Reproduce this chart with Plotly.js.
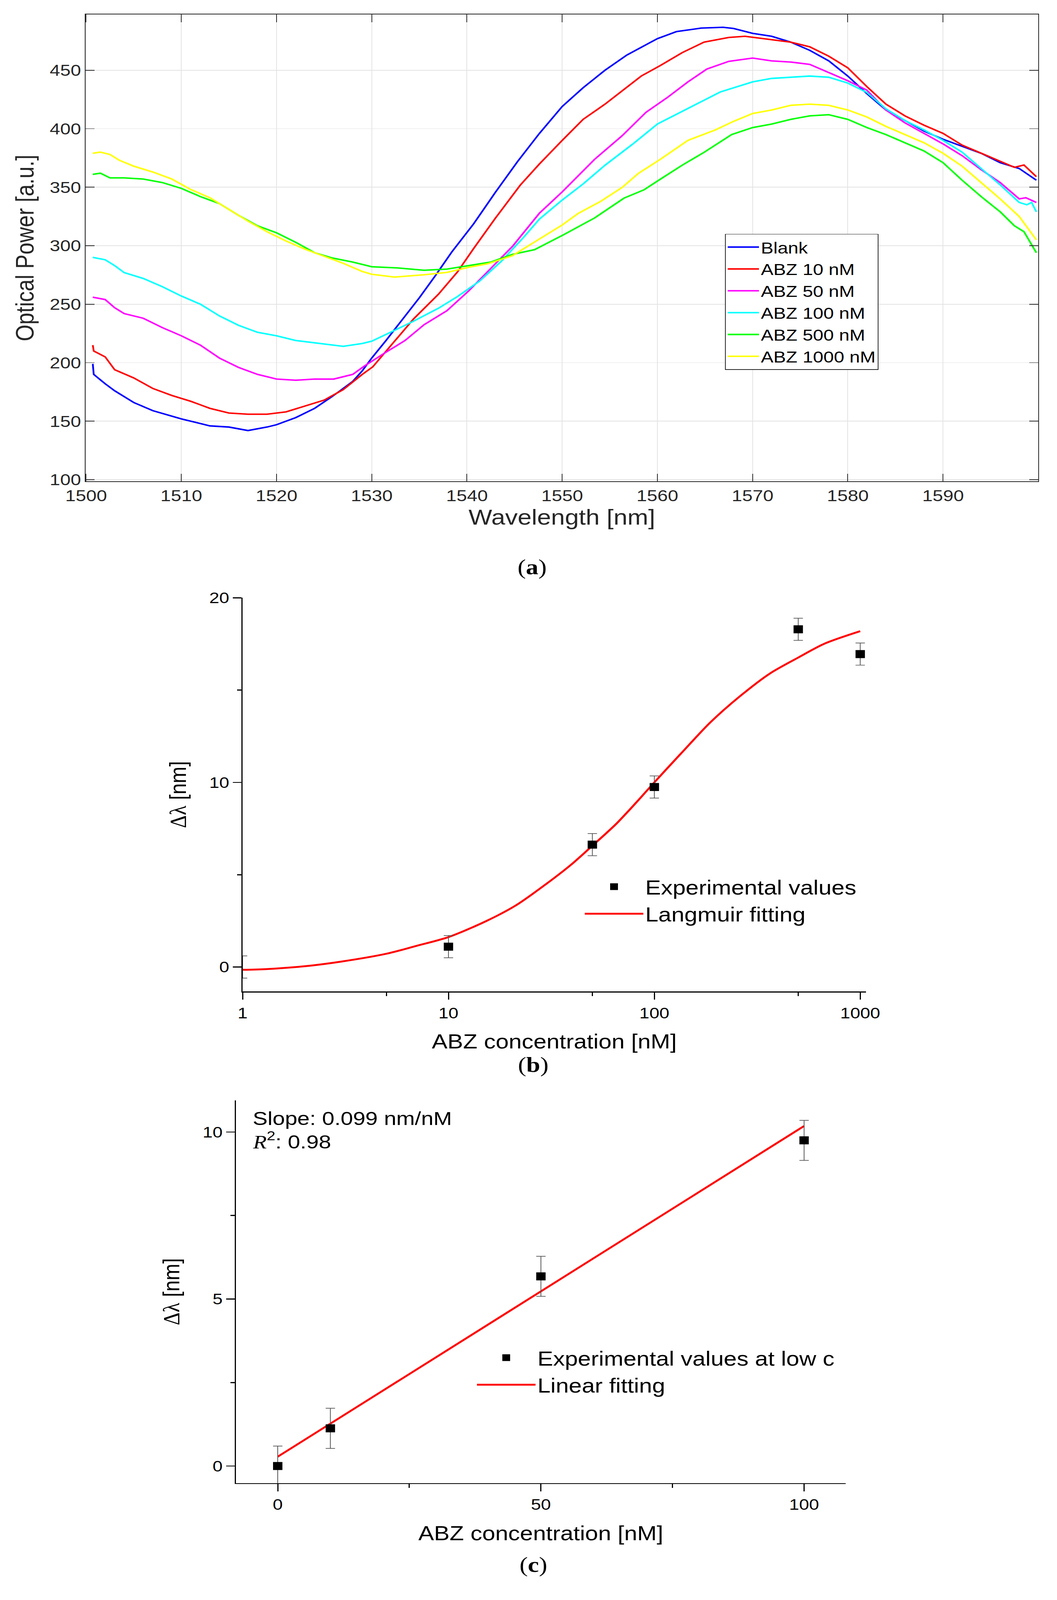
<!DOCTYPE html>
<html>
<head>
<meta charset="utf-8">
<script src="https://cdn.plot.ly/plotly-3.0.1.min.js"></script>
<style>
  html, body { margin: 0; padding: 0; background: #ffffff; overflow: hidden; }
  #wrap { width: 2706px; overflow: hidden; }
  #chart { width: 2706px; height: 4790px; transform-origin: 0 0; }
</style>
</head>
<body>
<div id="wrap"><div id="chart"></div></div>
<script>
// ==========================================================
// PANEL (a) - transmission spectra
// ==========================================================

let seriesNames = ["Blank", "ABZ 10 nM", "ABZ 50 nM", "ABZ 100 nM", "ABZ 500 nM", "ABZ 1000 nM"];
let seriesColors = ["#0000ff", "#ff0000", "#ff00ff", "#00ffff", "#00ff00", "#ffff00"];

let blankX = [1500.7, 1500.8, 1502, 1503, 1505, 1507, 1510, 1512, 1513, 1515, 1517, 1519, 1520, 1522, 1524, 1526, 1528, 1529, 1530, 1531.5, 1533.3, 1535, 1536.7, 1538.4, 1540.7, 1543, 1545.3, 1547.6, 1550, 1552.2, 1554.5, 1556.8, 1560, 1562, 1564.6, 1566.9, 1568, 1570, 1572, 1574, 1576, 1578, 1580, 1582, 1584, 1586, 1588, 1590, 1592, 1594, 1596, 1598, 1599.8];
let blankY = [199, 190, 182, 176, 166, 159, 152, 148, 146, 145, 142, 145, 147, 153, 161, 172, 184, 193, 204, 219, 237.5, 255.5, 274.6, 294.6, 318.7, 345.8, 371.8, 395.9, 419, 435, 450, 463, 477, 483, 486, 486.7, 485.7, 481.5, 479, 474, 467, 458, 445, 430, 416, 407, 398, 391, 385, 379, 371, 366, 356];

let abz10X = [1500.7, 1500.8, 1502, 1503, 1505, 1507, 1509, 1511, 1513, 1515, 1517, 1519, 1521, 1523, 1525, 1527, 1529, 1530.1, 1532.1, 1534.4, 1537, 1539, 1540.7, 1543, 1545.6, 1547.6, 1550, 1552.2, 1554.5, 1558.3, 1560.3, 1562.6, 1564.9, 1567.5, 1569.2, 1572, 1574, 1576, 1578, 1580, 1582, 1584, 1586, 1588, 1590, 1592, 1594, 1596, 1597.5, 1598.5, 1599.8];
let abz10Y = [215, 210, 205, 194, 187, 178, 172, 167, 161, 157, 156, 156, 158, 163, 168, 177, 190, 196.4, 215.4, 237.5, 258.5, 277.6, 297.6, 323.7, 351.8, 369.8, 390, 408, 421, 445, 454, 465, 474, 478, 479, 476, 474, 470, 462, 452, 436, 421, 411, 403, 396, 386, 379, 372, 367, 369, 359];

let abz50X = [1500.7, 1502, 1503, 1504, 1506, 1508, 1510, 1512, 1514, 1516, 1518, 1520, 1522, 1524, 1526, 1528, 1529.2, 1531.5, 1533.5, 1535.5, 1537.9, 1540.2, 1542.5, 1544.8, 1547.6, 1550, 1553.4, 1556.3, 1558.8, 1561.1, 1563.2, 1565.2, 1567.5, 1570, 1572, 1574, 1576, 1578, 1580, 1582, 1584, 1586, 1588, 1590, 1592, 1594, 1596, 1598, 1598.7, 1599.8];
let abz50Y = [256, 254, 247, 242, 238, 230, 223, 215, 204, 196, 190, 186, 185, 186, 186, 190, 197, 209, 219, 232.5, 244.5, 261.5, 280.6, 299.6, 327.7, 346, 373.8, 394, 414, 427, 440, 451, 457.6, 460.4, 458, 457, 455, 448, 441, 433, 416, 405, 396, 387, 377, 365, 354, 340, 341, 337];

let abz100X = [1500.7, 1502, 1503, 1504, 1506, 1508, 1510, 1512, 1514, 1516, 1518, 1520, 1522, 1524, 1525.8, 1527, 1529, 1530, 1532.1, 1534.4, 1537, 1539, 1541.3, 1543.6, 1545.9, 1547.6, 1550, 1552.2, 1554.5, 1557.4, 1560, 1562, 1564.3, 1566.6, 1570, 1572, 1574, 1576, 1578, 1580, 1582, 1584, 1586, 1588, 1590, 1592, 1594, 1596, 1598, 1598.8, 1599.3, 1599.8];
let abz100Y = [290, 288, 283, 277, 272, 265, 257, 250, 240, 232, 226, 223, 219, 217, 215.4, 214, 216.4, 218.4, 226.5, 235.5, 246.5, 256.5, 269.6, 286.6, 306.7, 322.7, 339, 352.8, 368.8, 386.8, 404, 412.3, 422, 431.4, 440, 443, 444, 445, 444, 439, 431, 417, 407, 399, 390, 380, 366, 352, 337, 335, 337, 329];

let abz500X = [1500.7, 1501.5, 1502.5, 1504, 1506, 1508, 1510, 1512, 1514, 1516, 1518, 1520, 1522, 1524, 1525.8, 1528, 1530, 1532.7, 1535.5, 1537.9, 1540.2, 1542.5, 1544.8, 1547.1, 1550, 1553.4, 1556.5, 1558.6, 1560.3, 1562.6, 1564.9, 1567.8, 1570, 1572, 1574, 1576, 1578, 1580, 1582, 1584, 1586, 1588, 1590, 1592, 1594, 1596, 1597.5, 1598.5, 1599.8];
let abz500Y = [361, 362, 358, 358, 357, 354, 349, 342, 336, 326, 317, 311, 303, 294, 289.6, 286, 282, 281, 279, 280, 283, 286, 292.6, 296.6, 308.7, 323.7, 340.7, 347.8, 356.8, 368.8, 379.8, 395, 401, 404, 408, 411, 412, 408, 401, 395, 388, 381, 371, 356, 342, 329, 317, 312, 294];

let abz1000X = [1500.7, 1501.5, 1502.5, 1503.5, 1505, 1507, 1509, 1511, 1513, 1515, 1517, 1519, 1521, 1523, 1525, 1527, 1529, 1530, 1532.4, 1535.5, 1537.9, 1540.2, 1542.2, 1544.8, 1547.6, 1550, 1551.7, 1554, 1556.3, 1558, 1560.3, 1563.2, 1566.1, 1568, 1570, 1572, 1574, 1576, 1578, 1580, 1582, 1584, 1586, 1588, 1590, 1592, 1594, 1596, 1598, 1599.8];
let abz1000Y = [379, 380, 378, 373, 368, 363, 357, 348, 341, 331, 321, 312, 304, 297, 291, 285, 278, 275.6, 273.2, 275.2, 277.2, 281.6, 284.6, 291.6, 305.7, 317.7, 327.7, 337.7, 349.8, 361.8, 373.8, 390, 399, 406.3, 413, 416, 420, 421, 420, 416, 410, 402, 395, 388, 379, 368, 354, 340, 325, 305];

let wavelengthTicks = [1500, 1510, 1520, 1530, 1540, 1550, 1560, 1570, 1580, 1590];
let powerTicks = [100, 150, 200, 250, 300, 350, 400, 450];

// ==========================================================
// PANEL (b) - Langmuir fit, log axis
// ==========================================================

let concB = [10, 50, 100, 500, 1000];
let shiftB = [1.10, 6.63, 9.75, 18.29, 16.95];
let errB = [0.6, 0.6, 0.6, 0.6, 0.6];

let blankConcB = [1];
let blankShiftB = [0];
let blankErrB = [0.6];

let fitConcB = [1, 1.31, 2, 3, 5, 6.96, 10, 15.2, 21.2, 29.7, 39.2, 50, 64.7, 80.9, 100, 133.6, 186.7, 260.8, 364.5, 500, 673, 1000];
let fitShiftB = [-0.15, -0.11, 0.04, 0.29, 0.72, 1.14, 1.62, 2.48, 3.33, 4.48, 5.52, 6.57, 7.71, 8.86, 10.0, 11.52, 13.24, 14.67, 15.90, 16.76, 17.52, 18.19];

// ==========================================================
// PANEL (c) - linear fit, low concentrations
// ==========================================================

let concC = [0, 10, 50, 100];
let shiftC = [0.0, 1.13, 5.68, 9.75];
let errC = [0.6, 0.6, 0.6, 0.6];

let fitConcC = [0, 100];
let fitShiftC = [0.28, 10.18];


let W = 2706;
let H = 4790;

function px(x){ return x / W; }
function py(y){ return 1 - y / H; }

let sans = "Liberation Sans, Arial, sans-serif";
let serif = "Liberation Serif, Times New Roman, serif";
let darkGray = "#262626";


// the window may be shorter than the figure: squeeze it to fit
let fitScale = Math.min(1, window.innerHeight / H);
document.getElementById("wrap").style.height = Math.round(H * fitScale) + "px";
document.getElementById("chart").style.transform = "scale(1," + fitScale + ")";


// ==========================================================
// TRACES
// ==========================================================

let spectraX = [blankX, abz10X, abz50X, abz100X, abz500X, abz1000X];
let spectraY = [blankY, abz10Y, abz50Y, abz100Y, abz500Y, abz1000Y];

let traces = [];

spectraX.forEach(function(xs, i){
    traces.push({
        x: xs,
        y: spectraY[i],
        name: seriesNames[i],
        type: "scatter",
        mode: "lines",
        line: { color: seriesColors[i], width: 4.5 },
        xaxis: "x",
        yaxis: "y",
        legend: "legend"
    });
});

let errStyle = { type: "data", visible: true, color: "#555555", thickness: 2, width: 12 };

// square marker, the outline keeps it large in the legend as well
let squareMarker = { size: 20, symbol: "square", color: "#000000", line: { color: "#000000", width: 4 } };

traces.push({
    x: fitConcB,
    y: fitShiftB,
    name: "Langmuir fitting",
    type: "scatter",
    mode: "lines",
    line: { color: "#ff0000", width: 5.5, shape: "spline", smoothing: 0.8 },
    xaxis: "x2",
    yaxis: "y2",
    legend: "legend2"
});

traces.push({
    x: blankConcB,
    y: blankShiftB,
    type: "scatter",
    mode: "markers",
    marker: { size: 24, symbol: "square", color: "rgba(0,0,0,0)" },
    error_y: Object.assign({ array: blankErrB }, errStyle),
    cliponaxis: false,
    showlegend: false,
    hoverinfo: "skip",
    xaxis: "x2",
    yaxis: "y2"
});

traces.push({
    x: concB,
    y: shiftB,
    name: "Experimental values",
    type: "scatter",
    mode: "markers",
    marker: squareMarker,
    error_y: Object.assign({ array: errB }, errStyle),
    xaxis: "x2",
    yaxis: "y2",
    legend: "legend2"
});

traces.push({
    x: fitConcC,
    y: fitShiftC,
    name: "Linear fitting",
    type: "scatter",
    mode: "lines",
    line: { color: "#ff0000", width: 5.5 },
    xaxis: "x3",
    yaxis: "y3",
    legend: "legend3"
});

traces.push({
    x: concC,
    y: shiftC,
    name: "Experimental values at low c",
    type: "scatter",
    mode: "markers",
    marker: squareMarker,
    error_y: Object.assign({ array: errC }, errStyle),
    xaxis: "x3",
    yaxis: "y3",
    legend: "legend3"
});


// ==========================================================
// LAYOUT
// ==========================================================

let axisB = {
    showline: true,
    linecolor: "#000000",
    linewidth: 3,
    ticks: "outside",
    ticklen: 22,
    tickwidth: 3,
    tickcolor: "#000000",
    showgrid: false,
    zeroline: false,
    tickfont: { family: sans, size: 46, color: "#000000" }
};

let layout = {
    width: W,
    height: H,
    margin: { l: 0, r: 0, t: 0, b: 0 },
    paper_bgcolor: "#ffffff",
    plot_bgcolor: "#ffffff",
    font: { family: sans, color: darkGray },

    // panel (a)
    xaxis: {
        domain: [px(219), px(2658)],
        range: [1499.94, 1600],
        tickmode: "array",
        tickvals: wavelengthTicks,
        showline: true,
        mirror: "ticks",
        linecolor: darkGray,
        linewidth: 2,
        ticks: "inside",
        ticklen: 23,
        tickwidth: 2,
        tickcolor: darkGray,
        showgrid: true,
        gridcolor: "#e3e3e3",
        gridwidth: 2,
        zeroline: false,
        tickfont: { family: sans, size: 48, color: darkGray },
        title: { text: "Wavelength [nm]", font: { family: sans, size: 64, color: darkGray }, standoff: 16 }
    },
    yaxis: {
        domain: [py(1441), py(43.5)],
        range: [98.6, 497.6],
        tickmode: "array",
        tickvals: powerTicks,
        showline: true,
        mirror: "ticks",
        linecolor: darkGray,
        linewidth: 2,
        ticks: "inside",
        ticklen: 23,
        tickwidth: 2,
        tickcolor: darkGray,
        showgrid: true,
        gridcolor: "#e3e3e3",
        gridwidth: 2,
        zeroline: false,
        tickfont: { family: sans, size: 48, color: darkGray },
        title: { text: "Optical Power [a.u.]", font: { family: sans, size: 64, color: darkGray }, standoff: 20 }
    },

    // panel (b)
    xaxis2: Object.assign({}, axisB, {
        domain: [px(621), px(2217)],
        type: "log",
        range: [0, 3.028],
        anchor: "y2",
        tickmode: "array",
        tickvals: [1, 10, 100, 1000],
        ticktext: ["1", "10", "100", "1000"],
        minor: { tickmode: "array", tickvals: [5, 50, 500], ticks: "outside", ticklen: 11, tickwidth: 3, tickcolor: "#000000", showgrid: false },
        title: { text: "ABZ concentration [nM]", font: { family: sans, size: 60, color: "#000000" }, standoff: 40 }
    }),
    yaxis2: Object.assign({}, axisB, {
        domain: [py(2968), py(1789.5)],
        range: [-1.32, 20],
        anchor: "x2",
        tickmode: "array",
        tickvals: [0, 10, 20],
        minor: { tickmode: "array", tickvals: [5, 15], ticks: "outside", ticklen: 11, tickwidth: 3, tickcolor: "#000000", showgrid: false },
        title: { text: "<span style='font-family:Liberation Serif'>Δλ</span> [nm]", font: { family: sans, size: 60, color: "#000000" }, standoff: 40 }
    }),

    // panel (c)
    xaxis3: Object.assign({}, axisB, {
        domain: [px(604), px(2165)],
        range: [-7.94, 107.9],
        anchor: "y3",
        tickmode: "array",
        tickvals: [0, 50, 100],
        minor: { tickmode: "array", tickvals: [25, 75], ticks: "outside", ticklen: 11, tickwidth: 3, tickcolor: "#000000", showgrid: false },
        title: { text: "ABZ concentration [nM]", font: { family: sans, size: 60, color: "#000000" }, standoff: 40 }
    }),
    yaxis3: Object.assign({}, axisB, {
        domain: [py(4440), py(3294)],
        range: [-0.51, 10.95],
        anchor: "x3",
        tickmode: "array",
        tickvals: [0, 5, 10],
        minor: { tickmode: "array", tickvals: [2.5, 7.5], ticks: "outside", ticklen: 11, tickwidth: 3, tickcolor: "#000000", showgrid: false },
        title: { text: "<span style='font-family:Liberation Serif'>Δλ</span> [nm]", font: { family: sans, size: 60, color: "#000000" }, standoff: 40 }
    }),

    legend: {
        x: px(1856), y: py(700),
        xanchor: "left", yanchor: "top",
        bgcolor: "#ffffff",
        bordercolor: darkGray,
        borderwidth: 2,
        itemwidth: 80,
        font: { family: sans, size: 48, color: "#000000" },
        tracegroupgap: 0
    },
    legend2: {
        x: px(1492), y: py(2609),
        xanchor: "left", yanchor: "top",
        bgcolor: "rgba(0,0,0,0)",
        borderwidth: 0,
        itemwidth: 150,
        traceorder: "reversed",
        font: { family: sans, size: 60, color: "#000000" }
    },
    legend3: {
        x: px(1216), y: py(4019),
        xanchor: "left", yanchor: "top",
        bgcolor: "rgba(0,0,0,0)",
        borderwidth: 0,
        itemwidth: 150,
        traceorder: "reversed",
        font: { family: sans, size: 60, color: "#000000" }
    },

    annotations: [
        { text: "(<b>a</b>)", x: px(1362), y: py(1697), xref: "paper", yref: "paper", showarrow: false, font: { family: serif, size: 64, color: "#000000" } },
        { text: "(<b>b</b>)", x: px(1365), y: py(3225), xref: "paper", yref: "paper", showarrow: false, font: { family: serif, size: 64, color: "#000000" } },
        { text: "(<b>c</b>)", x: px(1365), y: py(4722), xref: "paper", yref: "paper", showarrow: false, font: { family: serif, size: 64, color: "#000000" } },
        { text: "Slope: 0.099 nm/nM", x: px(645), y: py(3382), xref: "paper", yref: "paper", xanchor: "left", showarrow: false, font: { family: sans, size: 57, color: "#000000" } },
        { text: "<span style='font-family:Liberation Serif'><i>R</i></span><sup>2</sup>: 0.98", x: px(645), y: py(3452), xref: "paper", yref: "paper", xanchor: "left", showarrow: false, font: { family: sans, size: 57, color: "#000000" } }
    ]
};

let plotConfig = { staticPlot: true, displayModeBar: false };

Plotly.newPlot("chart", traces, layout, plotConfig);
</script>
</body>
</html>
